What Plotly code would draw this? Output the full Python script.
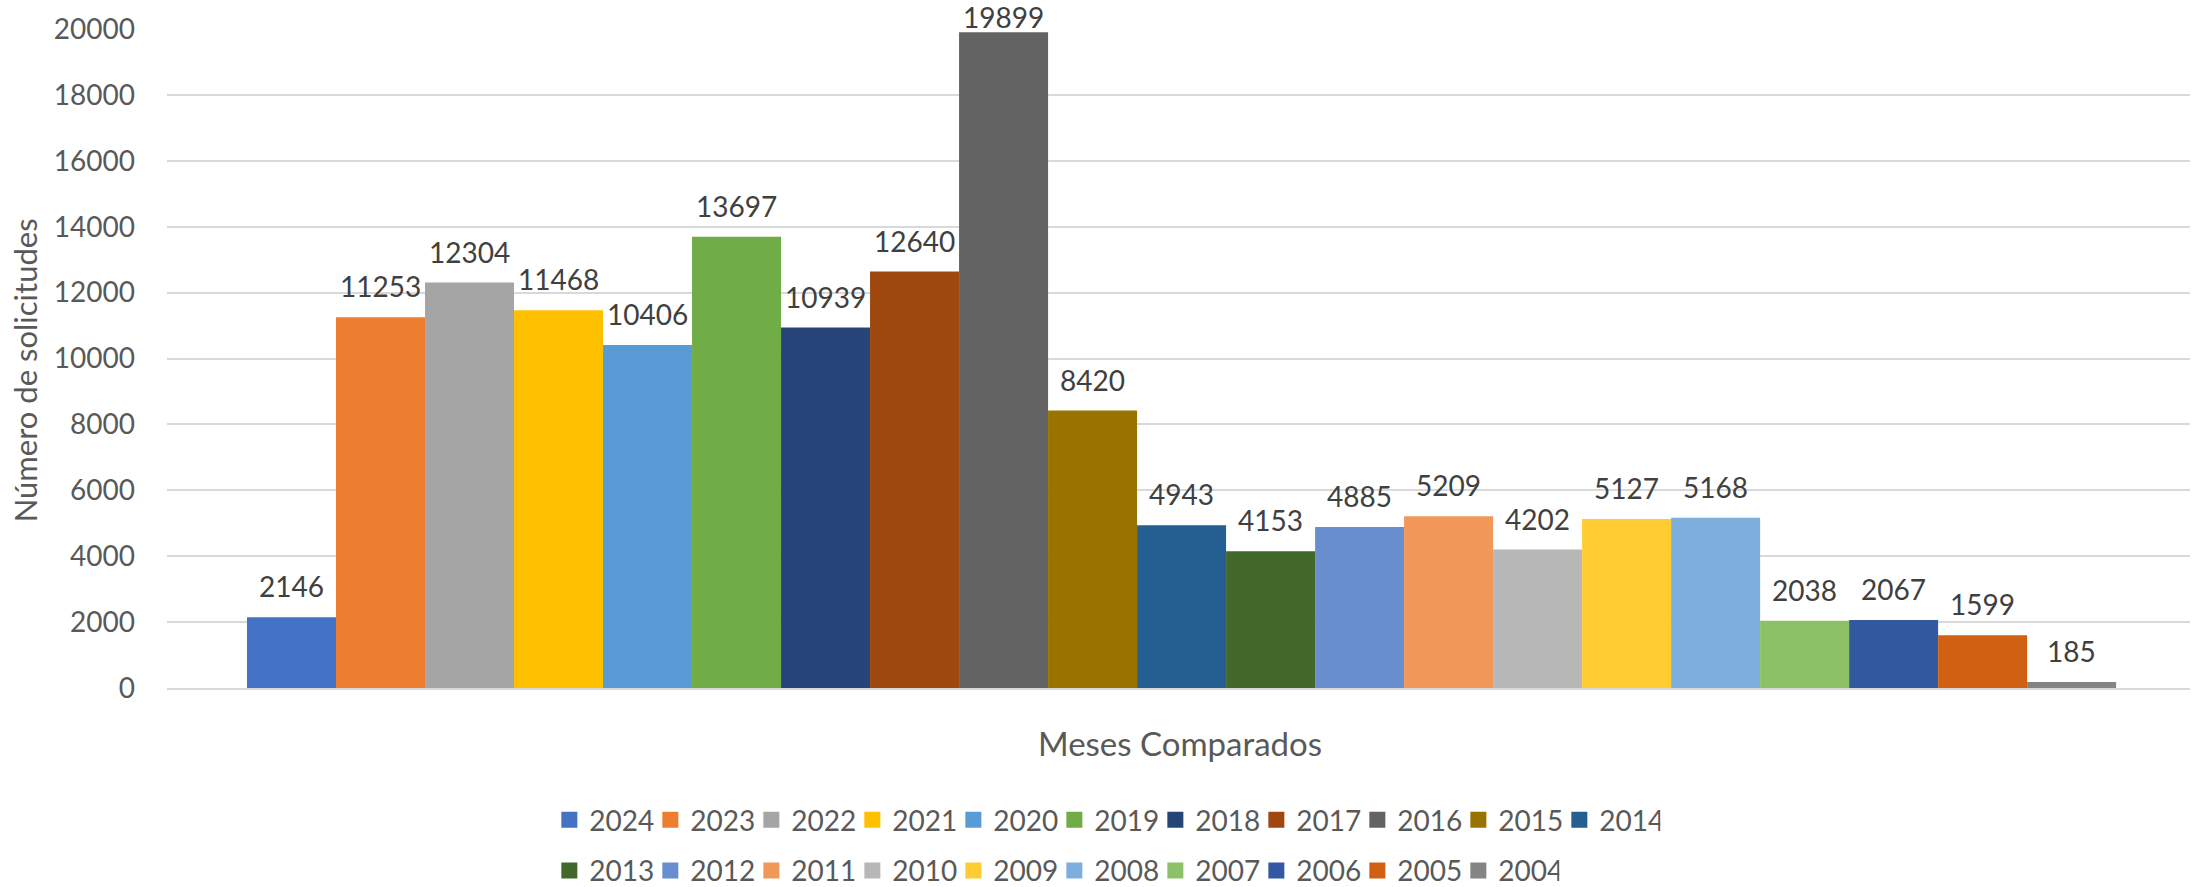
import plotly.graph_objects as go

years = ["2024", "2023", "2022", "2021", "2020", "2019", "2018", "2017", "2016", "2015", "2014",
         "2013", "2012", "2011", "2010", "2009", "2008", "2007", "2006", "2005", "2004"]
values = [2146, 11253, 12304, 11468, 10406, 13697, 10939, 12640, 19899, 8420, 4943,
          4153, 4885, 5209, 4202, 5127, 5168, 2038, 2067, 1599, 185]
colors = ["#4472C4", "#ED7D31", "#A5A5A5", "#FFC000", "#5B9BD5", "#70AD47", "#264478",
          "#9E480E", "#636363", "#997300", "#255E91", "#43682B", "#698ED0", "#F1975A",
          "#B7B7B7", "#FFCD33", "#7CAFDD", "#8CC168", "#335AA1", "#D26012", "#848484"]
y_ticks = [0, 2000, 4000, 6000, 8000, 10000, 12000, 14000, 16000, 18000, 20000]

FONT = "Lato"
TICK_COLOR = "#595959"
LABEL_COLOR = "#404040"
Y_MAX = 20000

fig = go.Figure()

for i, (yr, v, c) in enumerate(zip(years, values, colors)):
    fig.add_trace(go.Bar(
        x=[i], y=[v], width=1, marker=dict(color=c, line=dict(width=0)),
        name=yr, showlegend=False, hoverinfo="name+y",
    ))

# legend proxies (two rows via two legends)
for i, (yr, c) in enumerate(zip(years, colors)):
    fig.add_trace(go.Scatter(
        x=[None], y=[None], mode="markers", name=yr,
        marker=dict(symbol="square", size=18, color=c),
        legend="legend" if i < 11 else "legend2",
    ))

annotations = []
for i, v in enumerate(values):
    # labels that would run off the top are tucked down against the bar (as Excel does)
    shift = 12 if v < 0.95 * Y_MAX else -4
    annotations.append(dict(
        x=i, y=v, xref="x", yref="y", text=str(v), showarrow=False,
        yanchor="bottom", xanchor="center", yshift=shift,
        font=dict(family=FONT, size=28, color=LABEL_COLOR),
    ))

annotations.append(dict(
    x=-0.0702, y=0.482, xref="paper", yref="paper", text="Número de solicitudes",
    showarrow=False, textangle=-90, xanchor="center", yanchor="middle",
    font=dict(family=FONT, size=31, color=TICK_COLOR),
))
annotations.append(dict(
    x=0.5005, y=-0.0835, xref="paper", yref="paper", text="Meses Comparados",
    showarrow=False, xanchor="center", yanchor="middle",
    font=dict(family=FONT, size=33, color=TICK_COLOR),
))

legend_common = dict(
    orientation="h", xanchor="left", yanchor="middle",
    font=dict(family=FONT, size=28, color=TICK_COLOR),
    bgcolor="rgba(0,0,0,0)", borderwidth=0,
    entrywidth=56, entrywidthmode="pixels", itemsizing="trace",
    itemclick=False, itemdoubleclick=False,
)

fig.update_layout(
    width=2194, height=887,
    margin=dict(l=167, r=4, t=29, b=199, autoexpand=False),
    paper_bgcolor="white", plot_bgcolor="white",
    barmode="overlay",
    font=dict(family=FONT, color=TICK_COLOR),
    xaxis=dict(
        range=[-1.399, 21.33], showticklabels=False, showgrid=False,
        zeroline=False, showline=True, linecolor="#D9D9D9", linewidth=1.5,
        ticks="",
    ),
    yaxis=dict(
        range=[0, Y_MAX], tickvals=y_ticks, ticktext=[str(t) for t in y_ticks],
        showgrid=True, gridcolor="#D9D9D9", gridwidth=1.5, zeroline=False,
        showline=False, ticks="", ticklabelstandoff=31,
        tickfont=dict(family=FONT, size=28, color=TICK_COLOR),
    ),
    legend=dict(x=0.189, y=-0.2003, **legend_common),
    legend2=dict(x=0.189, y=-0.2775, **legend_common),
    annotations=annotations,
    showlegend=True,
)

fig.write_html(
    "out.html",
    config={"displayModeBar": False},
    post_script="document.body.style.margin='0';document.body.style.overflow='hidden';",
)
